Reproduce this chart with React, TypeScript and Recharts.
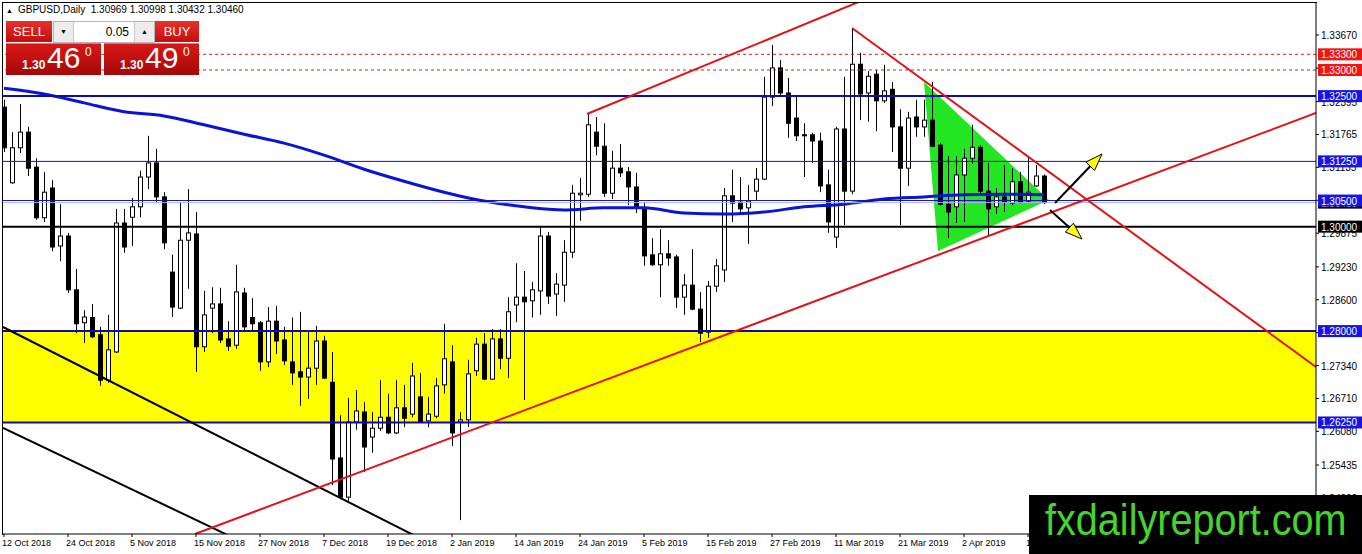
import React from 'react';
import { ComposedChart, Bar, Line, XAxis, YAxis, ReferenceLine, ReferenceArea } from 'recharts';

// GBPUSD daily candles, bar 0 = 12 Oct 2018
const opens = [
  1.3229, 1.3084, 1.3151, 1.3181, 1.3114, 1.3017, 1.3074, 1.2963, 1.2982, 1.2879,
  1.2816, 1.2826, 1.2793, 1.2706, 1.2760, 1.3007, 1.3018, 1.3038, 1.3095, 1.3122,
  1.3057, 1.2913, 1.2844, 1.2974, 1.2986, 1.2770, 1.2844, 1.2852, 1.2785, 1.2773,
  1.2873, 1.2826, 1.2816, 1.2741, 1.2819, 1.2783, 1.2741, 1.2722, 1.2712, 1.2729,
  1.2781, 1.2702, 1.2557, 1.2482, 1.2626, 1.2645, 1.2597, 1.2614, 1.2635, 1.2605,
  1.2653, 1.2641, 1.2674, 1.2628, 1.2637, 1.2697, 1.2741, 1.2626, 1.2630, 1.2724,
  1.2775, 1.2708, 1.2785, 1.2748, 1.2850, 1.2865, 1.2858, 1.2877, 1.2982, 1.2871,
  1.2888, 1.2951, 1.3061, 1.3062, 1.3181, 1.3154, 1.3064, 1.3112, 1.3105, 1.3076,
  1.3036, 1.2946, 1.2927, 1.2948, 1.2942, 1.2865, 1.2888, 1.2842, 1.2798, 1.2886,
  1.2917, 1.3059, 1.3047, 1.3036, 1.3068, 1.3091, 1.3248, 1.3304, 1.3256, 1.3208,
  1.3176, 1.3176, 1.3164, 1.3080, 1.2980, 1.3187, 1.3068, 1.3311, 1.3256, 1.3292,
  1.3241, 1.3263, 1.3191, 1.3112, 1.3210, 1.3191, 1.3204, 1.3156, 1.3043, 1.3038,
  1.3099, 1.3131, 1.3152, 1.3068, 1.3038, 1.3057, 1.3045, 1.3086, 1.3049, 1.3078,
  1.30969,
];
const highs = [
  1.3243, 1.3181, 1.3235, 1.3191, 1.3131, 1.3105, 1.3089, 1.3043, 1.2988, 1.2919,
  1.2840, 1.2852, 1.2808, 1.2831, 1.3034, 1.3034, 1.3055, 1.3107, 1.3174, 1.3149,
  1.3066, 1.2946, 1.3047, 1.3072, 1.3028, 1.2877, 1.2884, 1.2883, 1.2819, 1.2927,
  1.2883, 1.2863, 1.2819, 1.2846, 1.2848, 1.2808, 1.2826, 1.2837, 1.2798, 1.2810,
  1.2791, 1.2760, 1.2639, 1.2672, 1.2687, 1.2664, 1.2645, 1.2706, 1.2680, 1.2706,
  1.2697, 1.2739, 1.2720, 1.2674, 1.2710, 1.2814, 1.2773, 1.2645, 1.2745, 1.2787,
  1.2796, 1.2804, 1.2804, 1.2865, 1.2930, 1.2915, 1.2894, 1.2999, 1.2990, 1.2911,
  1.2974, 1.3080, 1.3093, 1.3216, 1.3210, 1.3198, 1.3145, 1.3158, 1.3114, 1.3103,
  1.3047, 1.2978, 1.2995, 1.2974, 1.2946, 1.2909, 1.2957, 1.2875, 1.2896, 1.2938,
  1.3074, 1.3109, 1.3095, 1.3080, 1.3112, 1.3287, 1.3348, 1.3319, 1.3285, 1.3252,
  1.3198, 1.3180, 1.3180, 1.3109, 1.3191, 1.3287, 1.3380, 1.3333, 1.3298, 1.3300,
  1.3310, 1.3277, 1.3225, 1.3220, 1.3243, 1.3243, 1.3277, 1.3160, 1.3135, 1.3135,
  1.3149, 1.3195, 1.3156, 1.3122, 1.3074, 1.3118, 1.3112, 1.3105, 1.3133, 1.3118,
  1.30998,
];
const lows = [
  1.3143, 1.3082, 1.3141, 1.3097, 1.3013, 1.3009, 1.2953, 1.2934, 1.2873, 1.2796,
  1.2777, 1.2787, 1.2695, 1.2701, 1.2758, 1.2950, 1.2963, 1.3018, 1.3072, 1.3045,
  1.2957, 1.2827, 1.2842, 1.2881, 1.2722, 1.2760, 1.2796, 1.2777, 1.2762, 1.2766,
  1.2798, 1.2802, 1.2724, 1.2731, 1.2756, 1.2735, 1.2697, 1.2657, 1.2670, 1.2697,
  1.2708, 1.2505, 1.2480, 1.2475, 1.2611, 1.2530, 1.2567, 1.2609, 1.2603, 1.2603,
  1.2616, 1.2635, 1.2624, 1.2616, 1.2633, 1.2680, 1.2580, 1.2438, 1.2616, 1.2714,
  1.2706, 1.2707, 1.2727, 1.2710, 1.2817, 1.2668, 1.2826, 1.2831, 1.2852, 1.2829,
  1.2856, 1.2940, 1.3011, 1.3057, 1.3137, 1.3057, 1.3053, 1.3095, 1.3041, 1.3026,
  1.2925, 1.2925, 1.2865, 1.2925, 1.2844, 1.2831, 1.2840, 1.2779, 1.2787, 1.2875,
  1.2894, 1.3009, 1.3026, 1.2967, 1.3051, 1.3089, 1.3231, 1.3252, 1.3170, 1.3164,
  1.3095, 1.3122, 1.3066, 1.2988, 1.2959, 1.3003, 1.3062, 1.3204, 1.3201, 1.3183,
  1.3237, 1.3143, 1.3003, 1.3078, 1.3172, 1.3172, 1.3152, 1.3041, 1.2978, 1.3007,
  1.3009, 1.3120, 1.3064, 1.2984, 1.3024, 1.3028, 1.3041, 1.3045, 1.3047, 1.3076,
  1.30432,
];
const closes = [
  1.3151, 1.3151, 1.3181, 1.3112, 1.3017, 1.3066, 1.2961, 1.2982, 1.2879, 1.2814,
  1.2827, 1.2789, 1.2706, 1.2764, 1.3007, 1.2961, 1.3038, 1.3095, 1.3122, 1.3057,
  1.2969, 1.2846, 1.2974, 1.2988, 1.2770, 1.2831, 1.2852, 1.2783, 1.2771, 1.2875,
  1.2808, 1.2814, 1.2741, 1.2819, 1.2781, 1.2743, 1.2720, 1.2712, 1.2729, 1.2781,
  1.2710, 1.2555, 1.2482, 1.2626, 1.2647, 1.2578, 1.2614, 1.2635, 1.2605, 1.2653,
  1.2633, 1.2714, 1.2626, 1.2641, 1.2695, 1.2747, 1.2605, 1.2630, 1.2718, 1.2775,
  1.2708, 1.2785, 1.2748, 1.2837, 1.2865, 1.2856, 1.2879, 1.2982, 1.2867, 1.2890,
  1.2951, 1.3064, 1.3064, 1.3195, 1.3154, 1.3064, 1.3112, 1.3103, 1.3076, 1.3036,
  1.2944, 1.2927, 1.2948, 1.2940, 1.2865, 1.2888, 1.2842, 1.2796, 1.2886, 1.2925,
  1.3059, 1.3045, 1.3034, 1.3049, 1.3091, 1.3248, 1.3304, 1.3256, 1.3198, 1.3174,
  1.3174, 1.3164, 1.3078, 1.3009, 1.3187, 1.3068, 1.3311, 1.3254, 1.3288, 1.3241,
  1.3260, 1.3191, 1.3112, 1.3208, 1.3191, 1.3204, 1.3154, 1.3043, 1.3028, 1.3099,
  1.3131, 1.3152, 1.3068, 1.3034, 1.3057, 1.3047, 1.3086, 1.3047, 1.3066, 1.3097,
  1.30460,
];

// moving average, read every 5th bar
const maBars = [0, 5, 10, 15, 20, 25, 30, 35, 40, 45, 50, 55, 60, 65, 70, 75, 80, 85, 90, 95, 100, 105, 110, 115, 120, 125, 130];
const maValues = [
  1.3265, 1.3254, 1.3237, 1.3220, 1.3212, 1.3195, 1.3177, 1.3160, 1.3137, 1.3110,
  1.3087, 1.3066, 1.3049, 1.3038, 1.3032, 1.3036, 1.3036, 1.3026, 1.3024, 1.3028,
  1.3038, 1.3043, 1.3053, 1.3057, 1.3061, 1.3062, 1.3061,
];

const dateTicks = [0, 8, 16, 24, 32, 40, 48, 56, 64, 72, 80, 88, 96, 104, 112, 120, 128];
const dateLabels = [
  '12 Oct 2018', '24 Oct 2018', '5 Nov 2018', '15 Nov 2018', '27 Nov 2018', '7 Dec 2018',
  '19 Dec 2018', '2 Jan 2019', '14 Jan 2019', '24 Jan 2019', '5 Feb 2019', '15 Feb 2019',
  '27 Feb 2019', '11 Mar 2019', '21 Mar 2019', '2 Apr 2019', '12 Apr 2019',
];

const priceTicks = [
  1.3367, 1.33035, 1.32395, 1.31765, 1.31135, 1.30505, 1.29875, 1.2923,
  1.286, 1.2797, 1.2734, 1.2671, 1.2608, 1.25435, 1.248,
];

// horizontal levels
const redLevels = [1.333, 1.33];
const blueThickLevels = [1.325, 1.28, 1.2625];
const blueThinLevels = [1.3125, 1.305];
const blackLevel = 1.3;
const bidPrice = 1.3046;

// price tags on the right scale, drawn over the plain tick labels (later ones on top)
const tagPrices = [1.3046, 1.333, 1.33, 1.325, 1.3125, 1.305, 1.3, 1.28, 1.2625];
const tagColors = ['#000', '#f01414', '#f01414', '#1616e2', '#1616e2', '#1616e2', '#000', '#1616e2', '#1616e2'];

// drawn objects, points as [bar, price]
const channelTop: [number, number][] = [[72.875, 1.32157], [112, 1.3463]];
const supportLine: [number, number][] = [[23.875, 1.24114], [164, 1.32176]];
const resistanceLine: [number, number][] = [[106, 1.33804], [164, 1.27312]];
const blackLineA: [number, number][] = [[-0.125, 1.28078], [56, 1.2372]];
const blackLineB: [number, number][] = [[-0.125, 1.26144], [35, 1.2358]];
const pennant: [number, number][] = [[115, 1.3277], [116.75, 1.29534], [130.6, 1.3051]];
const arrowUp: [number, number][] = [[131.375, 1.30453], [137.25, 1.31391]];
const arrowDown: [number, number][] = [[130.75, 1.30319], [134.75, 1.29763]];

const X_DOMAIN: [number, number] = [-0.125, 164];
const Y_DOMAIN: [number, number] = [1.24114, 1.34283];
const FONT = '"Liberation Sans", Arial, sans-serif';

const data = opens.map((o, i) => {
  const k = maBars.indexOf(i);
  return {
    i,
    open: o,
    high: highs[i],
    low: lows[i],
    close: closes[i],
    range: [lows[i], highs[i]],
    ma: k >= 0 ? maValues[k] : null,
  };
});

const Candle = (props: any) => {
  const { x, y, width, height, payload } = props;
  if (!payload || y == null || height == null) return null;
  const top = Math.min(y, y + height);
  const bot = Math.max(y, y + height);
  const span = payload.high - payload.low || 1;
  const py = (v: number) => top + ((payload.high - v) / span) * (bot - top);
  const cx = Math.round(x + width / 2) + 0.5;
  const oy = py(payload.open);
  const cy = py(payload.close);
  const bTop = Math.min(oy, cy);
  const bH = Math.max(1, Math.abs(oy - cy));
  const up = payload.close >= payload.open;
  return (
    <g>
      <line x1={cx} x2={cx} y1={top} y2={bot} stroke="#000" strokeWidth={1} />
      <rect x={cx - 2} y={bTop} width={4} height={bH} fill={up ? '#fff' : '#000'} stroke="#000" strokeWidth={1} />
    </g>
  );
};

const DateTick = (props: any) => {
  const { x, y, payload } = props;
  const idx = dateTicks.indexOf(payload.value);
  return (
    <text x={x - 2} y={y + 8} fontSize={9} fontFamily={FONT} fill="#000" textAnchor="start">
      {dateLabels[idx]}
    </text>
  );
};

const PriceTick = (props: any) => {
  const { x, y, payload } = props;
  const v = payload.value;
  const t = tagPrices.indexOf(v);
  if (t >= 0) {
    return (
      <g>
        <rect x={x + 2} y={y - 6} width={44} height={12} fill={tagColors[t]} />
        <text x={x + 5} y={y + 4} fontSize={10} fontFamily={FONT} fill="#fff">{v.toFixed(5)}</text>
      </g>
    );
  }
  return (
    <g>
      <line x1={x} x2={x + 3} y1={y} y2={y} stroke="#000" />
      <text x={x + 5} y={y + 4} fontSize={10} fontFamily={FONT} fill="#000">{v.toFixed(5)}</text>
    </g>
  );
};

const PennantShape = (props: any) => {
  const { x, y, width, height } = props;
  const x0 = pennant[0][0];
  const x1 = pennant[2][0];
  const yTop = pennant[0][1];
  const yBot = pennant[1][1];
  const pts = pennant
    .map(([b, p]) => `${x + ((b - x0) / (x1 - x0)) * width},${y + ((yTop - p) / (yTop - yBot)) * height}`)
    .join(' ');
  return <polygon points={pts} fill="#22e622" stroke="none" />;
};

const ArrowShape = (props: any) => {
  const { x1, y1, x2, y2 } = props;
  if (x1 == null) return null;
  const ang = Math.atan2(y2 - y1, x2 - x1);
  const len = 17;
  const hw = 6;
  const bx = x2 - len * Math.cos(ang);
  const by = y2 - len * Math.sin(ang);
  const nx = -Math.sin(ang) * hw;
  const ny = Math.cos(ang) * hw;
  return (
    <g>
      <line x1={x1} y1={y1} x2={bx} y2={by} stroke="#000" strokeWidth={2} />
      <polygon points={`${x2},${y2} ${bx + nx},${by + ny} ${bx - nx},${by - ny}`} fill="#ffff00" stroke="#000" strokeWidth={1} />
    </g>
  );
};

const seg = (pts: [number, number][]) => pts.map(([b, p]) => ({ x: b, y: p }));

function TradePanel() {
  const red = 'linear-gradient(#e8302c, #c40e0e)';
  const dark = 'linear-gradient(#d81818, #a50808)';
  const btn: React.CSSProperties = {
    position: 'absolute', top: 21, height: 21, background: red, color: '#fff',
    fontSize: 13, fontFamily: FONT, textAlign: 'center', lineHeight: '21px',
  };
  return (
    <>
      <div style={{ position: 'absolute', left: 6, top: 4, fontSize: 10, fontFamily: FONT, color: '#000', whiteSpace: 'nowrap' }}>
        <span style={{ fontSize: 7, marginRight: 5 }}>▲</span>GBPUSD,Daily&nbsp; 1.30969 1.30998 1.30432 1.30460
      </div>
      <div style={{ ...btn, left: 6, width: 46 }}>SELL</div>
      <div style={{ position: 'absolute', left: 53, top: 21, width: 100, height: 20, border: '1px solid #b5b5b5', background: '#fff' }}>
        <div style={{ position: 'absolute', left: 0, top: 0, width: 19, height: 20, background: '#ececec', borderRight: '1px solid #c8c8c8', fontSize: 7, textAlign: 'center', lineHeight: '20px' }}>▼</div>
        <div style={{ position: 'absolute', right: 25, top: 0, fontSize: 12, fontFamily: FONT, lineHeight: '20px' }}>0.05</div>
        <div style={{ position: 'absolute', right: 0, top: 0, width: 19, height: 20, background: '#ececec', borderLeft: '1px solid #c8c8c8', fontSize: 7, textAlign: 'center', lineHeight: '20px' }}>▲</div>
      </div>
      <div style={{ ...btn, left: 155, width: 44 }}>BUY</div>
      {[{ left: 6, big: '46' }, { left: 104, big: '49' }].map((b) => (
        <div key={b.left} style={{ position: 'absolute', left: b.left, top: 43, width: 95, height: 31, background: dark, color: '#fff', fontFamily: FONT, borderTop: '1px solid #f07070' }}>
          <span style={{ position: 'absolute', left: 16, top: 14, fontSize: 12, fontWeight: 'bold' }}>1.30</span>
          <span style={{ position: 'absolute', left: 41, top: -3, fontSize: 30 }}>{b.big}</span>
          <span style={{ position: 'absolute', left: 79, top: 1, fontSize: 12 }}>0</span>
        </div>
      ))}
    </>
  );
}

export default function App() {
  return (
    <div style={{ position: 'absolute', left: 0, top: 0, width: 1362, height: 554, background: '#fff', overflow: 'hidden' }}>
      <ComposedChart width={1362} height={554} data={data} margin={{ top: 3, right: 0, bottom: 0, left: 3 }}>
        <XAxis
          dataKey="i"
          type="number"
          domain={X_DOMAIN}
          allowDataOverflow
          ticks={dateTicks}
          interval={0}
          tick={<DateTick />}
          tickSize={3}
          tickMargin={1}
          height={20}
          stroke="#000"
        />
        <YAxis
          orientation="right"
          type="number"
          domain={Y_DOMAIN}
          allowDataOverflow
          ticks={[...priceTicks, ...tagPrices]}
          interval={0}
          width={46}
          tickLine={false}
          tickSize={0}
          tickMargin={0}
          stroke="#000"
          tick={<PriceTick />}
        />
        <ReferenceArea y1={1.2625} y2={1.28} fill="#ffff00" fillOpacity={1} stroke="none" ifOverflow="hidden" />
        <ReferenceArea
          x1={pennant[0][0]}
          x2={pennant[2][0]}
          y1={pennant[1][1]}
          y2={pennant[0][1]}
          shape={<PennantShape />}
          ifOverflow="visible"
        />
        <Bar dataKey="range" shape={<Candle />} barSize={5} isAnimationActive={false} />
        <Line dataKey="ma" type="monotone" stroke="#0a14d6" strokeWidth={3} dot={false} connectNulls isAnimationActive={false} />
        {redLevels.map((p) => (
          <ReferenceLine key={p} y={p} stroke="#d42222" strokeDasharray="3 3" />
        ))}
        <ReferenceLine y={bidPrice} stroke="#aab6e0" />
        {blueThinLevels.map((p) => (
          <ReferenceLine key={p} y={p} stroke="#1414a8" strokeWidth={1} />
        ))}
        {blueThickLevels.map((p) => (
          <ReferenceLine key={p} y={p} stroke="#0c0cb0" strokeWidth={2} />
        ))}
        <ReferenceLine y={blackLevel} stroke="#000" strokeWidth={2} />
        <ReferenceLine segment={seg(blackLineA)} stroke="#000" strokeWidth={2} ifOverflow="hidden" />
        <ReferenceLine segment={seg(blackLineB)} stroke="#000" strokeWidth={2} ifOverflow="hidden" />
        <ReferenceLine segment={seg(channelTop)} stroke="#e01414" strokeWidth={2} ifOverflow="hidden" />
        <ReferenceLine segment={seg(supportLine)} stroke="#e01414" strokeWidth={2} ifOverflow="hidden" />
        <ReferenceLine segment={seg(resistanceLine)} stroke="#e01414" strokeWidth={2} ifOverflow="hidden" />
        <ReferenceLine segment={seg(arrowUp)} shape={<ArrowShape />} ifOverflow="visible" />
        <ReferenceLine segment={seg(arrowDown)} shape={<ArrowShape />} ifOverflow="visible" />
      </ComposedChart>
      <div style={{ position: 'absolute', left: 2, top: 2, width: 1314, height: 532, borderLeft: '1px solid #000', borderTop: '1px solid #000', pointerEvents: 'none' }} />
      <TradePanel />
      <div style={{ position: 'absolute', left: 1029, top: 495, width: 333, height: 59, background: '#000' }}>
        <span style={{ position: 'absolute', left: 16, top: 3, color: '#44d42c', fontFamily: FONT, fontSize: 44, lineHeight: '44px', whiteSpace: 'nowrap', transform: 'scaleX(0.9)', transformOrigin: 'left top', display: 'inline-block' }}>
          fxdailyreport.com
        </span>
      </div>
    </div>
  );
}
